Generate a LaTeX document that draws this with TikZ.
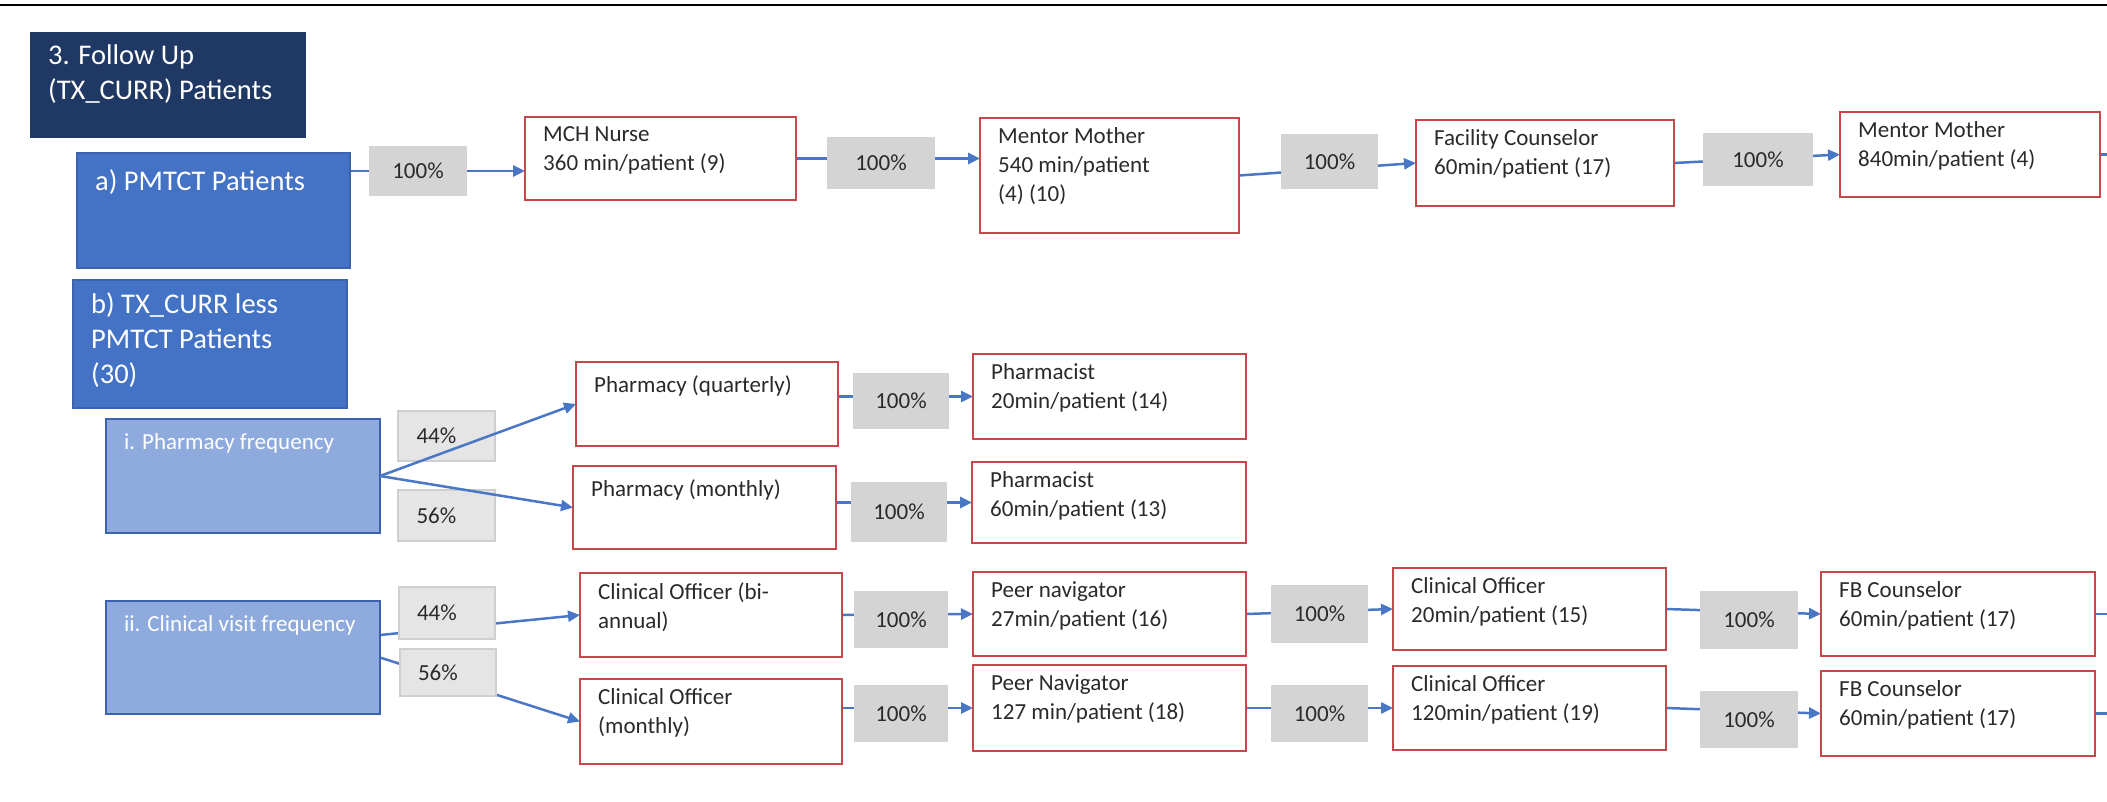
\documentclass[tikz,border=0pt]{standalone}
\usepackage{fontspec}
\setmainfont{Carlito}
\usetikzlibrary{arrows.meta}

\definecolor{navy}{HTML}{203864}
\definecolor{midblue}{HTML}{4472C4}
\definecolor{lightblue}{HTML}{8FAADC}
\definecolor{edgeblue}{HTML}{3A62AE}
\definecolor{boxred}{HTML}{C9474B}
\definecolor{pctgray}{HTML}{D4D4D4}
\definecolor{splitgray}{HTML}{E5E5E5}
\definecolor{splitedge}{HTML}{CFCFCF}
\definecolor{linkblue}{HTML}{4A76C6}
\definecolor{ink}{HTML}{2A2A2A}

\newcommand{\bodyfont}{\fontsize{23}{29}\selectfont}
\newcommand{\headfont}{\fontsize{28.5}{35}\selectfont}

\pgfdeclarelayer{back}
\pgfsetlayers{back,main}

\tikzset{
  box/.style={anchor=north west, inner sep=0pt, outer sep=0pt},
  headbox/.style={box, fill=navy},
  groupbox/.style={box, fill=midblue, draw=edgeblue, line width=1.5pt},
  freqbox/.style={box, fill=lightblue, draw=edgeblue, line width=1.5pt},
  rolebox/.style={box, fill=white, draw=boxred, line width=2.5pt},
  headtext/.style={anchor=north west, inner sep=0pt, align=left, text=white,
    font=\headfont, execute at begin node=\strut},
  roletext/.style={anchor=north west, inner sep=0pt, align=left, text=ink,
    font=\bodyfont, execute at begin node=\strut},
  freqtext/.style={roletext, text=white},
  pct/.style={box, fill=pctgray, font=\bodyfont, text=ink, align=center},
  split/.style={box, fill=splitgray, draw=splitedge, line width=1.5pt,
    font=\bodyfont, text=ink, text width=60pt, align=left},
  link/.style={draw=linkblue, line width=2.5pt, -{Triangle[length=12pt,width=11pt]}},
  stub/.style={draw=linkblue, line width=2.5pt},
}

% name, x, y, width, height, text
\newcommand{\RoleBox}[6]{%
  \node[rolebox, minimum width=#4pt, minimum height=#5pt] (#1) at (#2,#3) {};
  \node[roletext] (#1-t) at ([xshift=18pt,yshift=-9.7pt]#1.north west) {#6};}
% name, style, x, y, width, height, text
\newcommand{\HeadBox}[7]{%
  \node[#2, minimum width=#5pt, minimum height=#6pt] (#1) at (#3,#4) {};
  \node[headtext] (#1-t) at ([xshift=18pt,yshift=-12.5pt]#1.north west) {#7};}
\newcommand{\FreqBox}[6]{%
  \node[freqbox, minimum width=#4pt, minimum height=#5pt] (#1) at (#2,#3) {};
  \node[freqtext] (#1-t) at ([xshift=18pt,yshift=-9.7pt]#1.north west) {#6};}
% name, x, y, width, height, text
\newcommand{\PctBox}[6]{%
  \node[pct, minimum width=#4pt, minimum height=#5pt] (#1) at (#2,#3) {#6};}
\newcommand{\SplitBox}[6]{%
  \node[split, minimum width=#4pt, minimum height=#5pt] (#1) at (#2,#3) {#6};}

\begin{document}
\begin{tikzpicture}[x=1pt,y=-1pt]
\useasboundingbox (0,0) rectangle (2107,801);

% frame rule along the top
\draw[line width=2.5pt, black] (0,5) -- (2107,5);

% section headings
\HeadBox{title}{headbox}{30}{32}{276}{106}{3. Follow Up\\(TX\_CURR) Patients}
\HeadBox{pmtct}{groupbox}{77}{153}{273}{115}{a) PMTCT Patients}
\HeadBox{txcurr}{groupbox}{73}{280}{274}{128}{b) TX\_CURR less\\PMTCT Patients\\(30)}
\FreqBox{ph}{106}{419}{274}{114}{i. Pharmacy frequency}
\FreqBox{cv}{106}{601}{274}{113}{ii. Clinical visit frequency}

% PMTCT pathway
\RoleBox{mch}{525}{117}{271}{83}{MCH Nurse\\360 min/patient (9)}
\RoleBox{mm}{980}{118}{259}{115}{Mentor Mother\\540 min/patient\\(4) (10)}
\RoleBox{fc}{1416}{120}{258}{86}{Facility Counselor\\60min/patient (17)}
\RoleBox{mmb}{1840}{112}{260}{85}{Mentor Mother\\840min/patient (4)}

% pharmacy pathway
\RoleBox{pq}{576}{362}{262}{84}{Pharmacy (quarterly)}
\RoleBox{pha}{973}{354}{273}{85}{Pharmacist\\20min/patient (14)}
\RoleBox{pm}{573}{466}{263}{83}{Pharmacy (monthly)}
\RoleBox{phb}{972}{462}{274}{81}{Pharmacist\\60min/patient (13)}

% clinical visit pathway
\RoleBox{cob}{580}{573}{262}{84}{Clinical Officer (bi-\\annual)}
\RoleBox{pna}{973}{572}{273}{84}{Peer navigator\\27min/patient (16)}
\RoleBox{coa}{1393}{568}{273}{82}{Clinical Officer\\20min/patient (15)}
\RoleBox{fba}{1821}{572}{274}{84}{FB Counselor\\60min/patient (17)}
\RoleBox{com}{580}{679}{262}{85}{Clinical Officer\\(monthly)}
\RoleBox{pnb}{973}{665}{273}{86}{Peer Navigator\\127 min/patient (18)}
\RoleBox{cobb}{1393}{666}{273}{84}{Clinical Officer\\120min/patient (19)}
\RoleBox{fbb}{1821}{671}{274}{85}{FB Counselor\\60min/patient (17)}

% share labels on the links
\PctBox{p1}{369}{146}{98}{50}{100\%}
\PctBox{p2}{827}{137}{108}{52}{100\%}
\PctBox{p3}{1281}{134}{97}{55}{100\%}
\PctBox{p4}{1703}{133}{110}{53}{100\%}
\PctBox{pp1}{853}{373}{96}{56}{100\%}
\PctBox{pp2}{851}{482}{96}{60}{100\%}
\PctBox{pc1}{854}{591}{94}{57}{100\%}
\PctBox{pc2}{1271}{585}{97}{58}{100\%}
\PctBox{pc3}{1700}{591}{98}{58}{100\%}
\PctBox{pc4}{854}{685}{94}{57}{100\%}
\PctBox{pc5}{1271}{685}{97}{57}{100\%}
\PctBox{pc6}{1700}{691}{98}{57}{100\%}

\SplitBox{s1}{398}{411}{97}{50}{44\%}
\SplitBox{s2}{398}{490}{97}{51}{56\%}
\SplitBox{s3}{399}{587}{96}{52}{44\%}
\SplitBox{s4}{400}{649}{96}{47}{56\%}

% loose ends running off to the right
\coordinate (endA) at (2107,154.5);
\coordinate (endB) at (2107,614);
\coordinate (endC) at (2107,713.5);

% links passing under the share labels
\begin{pgfonlayer}{back}
  \draw[link] (pmtct.east |- p1) -- (mch.west |- p1);
  \draw[link] (mch.east) -- (mch.east -| mm.west);
  \draw[link] (mm.east) -- (fc.west);
  \draw[link] (fc.east) -- (mmb.west);
  \draw[stub] (mmb.east) -- (endA);

  \draw[link] (pq.east |- pha.west) -- (pha.west);
  \draw[link] (pm.east |- phb.west) -- (phb.west);

  \draw[link] ([yshift=22.5pt]cv.east) -- (cob.west);
  \draw[link] (cv.east) -- (com.west);
  \draw[link] (cob.east) -- (pna.west);
  \draw[link] (pna.east) -- (coa.west);
  \draw[link] (coa.east) -- (fba.west);
  \draw[stub] (fba.east) -- (endB);
  \draw[link] (com.east |- pnb.west) -- (pnb.west);
  \draw[link] (pnb.east) -- (cobb.west);
  \draw[link] (cobb.east) -- (fbb.west);
  \draw[stub] (fbb.east) -- (endC);
\end{pgfonlayer}

% pharmacy split drawn over its labels
\draw[link] (ph.east) -- (pq.west);
\draw[link] (ph.east) -- (pm.west);
\end{tikzpicture}
\end{document}
